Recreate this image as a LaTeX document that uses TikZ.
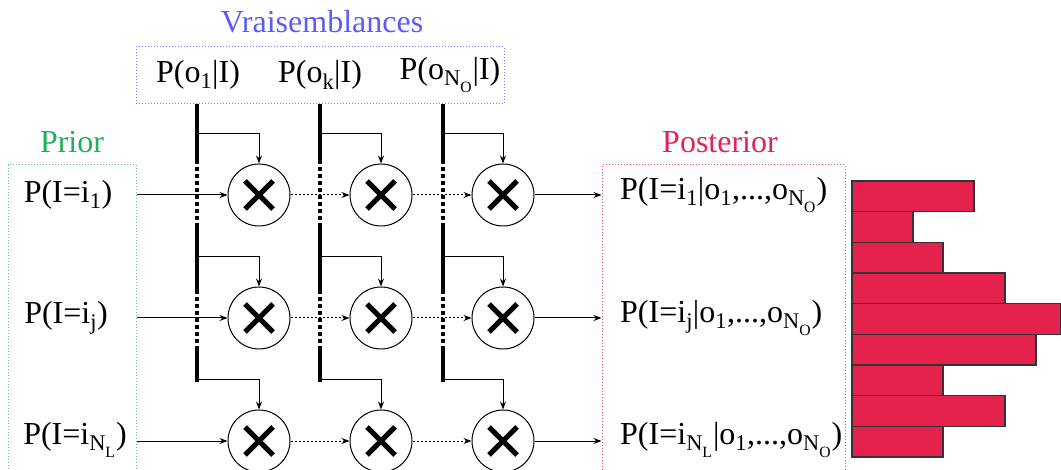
\documentclass[tikz,border=0pt]{standalone}
\usepackage{fontspec}
\setmainfont{Liberation Serif}
\usetikzlibrary{arrows.meta}
\definecolor{vblue}{HTML}{5A5AFF}
\definecolor{pgreen}{HTML}{1DB05C}
\definecolor{ppink}{HTML}{E0245A}
\definecolor{barred}{HTML}{E5224E}
\newcommand{\nsub}[2]{\textsubscript{#1\raisebox{-0.35ex}{\textsubscript{#2}}}}
\begin{document}
\begin{tikzpicture}[x=1pt,y=-1pt,
  every node/.style={font=\fontsize{32}{36}\selectfont, inner sep=0pt},
  grpbox/.style={draw, dotted, line width=1pt, inner sep=0pt},
  mult/.style={circle, draw, line width=1pt, minimum size=62pt,
    path picture={\draw[line width=5pt]
      ([shift={(-14pt,-14pt)}]path picture bounding box.center) -- ([shift={(14pt,14pt)}]path picture bounding box.center)
      ([shift={(-14pt,14pt)}]path picture bounding box.center) -- ([shift={(14pt,-14pt)}]path picture bounding box.center);}},
  conn/.style={line width=1pt, -{Stealth[length=8pt,width=6pt]}},
  dconn/.style={conn, dash pattern=on 2pt off 2pt},
  barsolid/.style={line width=4pt},
  bardot/.style={line width=4pt, dash pattern=on 4pt off 3pt},
  hist/.style={draw=black!80, fill=barred, line width=1.2pt}]
\useasboundingbox (0,0) rectangle (1061,470);

% titles
\node[text=vblue] (tv) at (322,22) {Vraisemblances};
\node[text=pgreen] (tp) at (72,142) {Prior};
\node[text=ppink] (tq) at (720,142) {Posterior};

% boxes
\node[grpbox, draw=vblue!80, minimum width=368pt, minimum height=57pt] (vbox) at (320,75.5) {};
\node[grpbox, draw=pgreen!70, minimum width=128pt, minimum height=320pt] (pbox) at (72,325) {};
\node[grpbox, draw=ppink!80, minimum width=243pt, minimum height=320pt] (qbox) at (723.5,325) {};

% likelihood labels
\node (l1) at (198,75) {P(o\textsubscript{1}|I)};
\node (l2) at (320,75) {P(o\textsubscript{k}|I)};
\node (l3) at (450,75) {P(o\nsub{N}{O}|I)};

% prior labels
\node (p1) at (68,195) {P(I=i\textsubscript{1})};
\node (p2) at (66,318) {P(I=i\textsubscript{j})};
\node (p3) at (75,440) {P(I=i\nsub{N}{L})};

% posterior labels
\node[anchor=west] (q1) at (620,195) {P(I=i\textsubscript{1}|o\textsubscript{1},...,o\nsub{N}{O})};
\node[anchor=west] (q2) at (620,318) {P(I=i\textsubscript{j}|o\textsubscript{1},...,o\nsub{N}{O})};
\node[anchor=west] (q3) at (620,440) {P(I=i\nsub{N}{L}|o\textsubscript{1},...,o\nsub{N}{O})};

% multipliers
\foreach \c/\x in {1/259,2/381,3/503}{
  \foreach \r/\y in {1/195,2/318,3/441}{
    \node[mult] (m\c\r) at (\x,\y) {};
  }
}

% thick likelihood lines
\foreach \c/\x in {1/197,2/320,3/443}{
  \draw[barsolid] (\x,104) -- (\x,160);
  \draw[bardot] (\x,160) -- (\x,225);
  \draw[barsolid] (\x,225) -- (\x,290);
  \draw[bardot] (\x,290) -- (\x,347);
  \draw[barsolid] (\x,347) -- (\x,382);
  \coordinate (b\c1) at (\x,134);
  \coordinate (b\c2) at (\x,257);
  \coordinate (b\c3) at (\x,380);
}

% branch arrows
\foreach \c in {1,2,3}{
  \foreach \r in {1,2,3}{
    \draw[conn] (b\c\r) -| (m\c\r.north);
  }
}

% prior -> first multiplier
\draw[conn] (pbox.east |- m11) -- (m11);
\draw[conn] (pbox.east |- m12) -- (m12);
\draw[conn] (pbox.east |- m13) -- (m13);

% dotted between multipliers, then to posterior
\foreach \r in {1,2,3}{
  \draw[dconn] (m1\r) -- (m2\r);
  \draw[dconn] (m2\r) -- (m3\r);
  \draw[conn] (m3\r) -- (qbox.west |- m3\r);
}

% histogram
\foreach \i/\w in {0/974,1/913,2/943,3/1005,4/1061,5/1036,6/943,7/1005,8/943}{
  \path[hist] (852,{181+30.67*\i}) rectangle (\w,{181+30.67*(\i+1)});
}
\end{tikzpicture}
\end{document}
